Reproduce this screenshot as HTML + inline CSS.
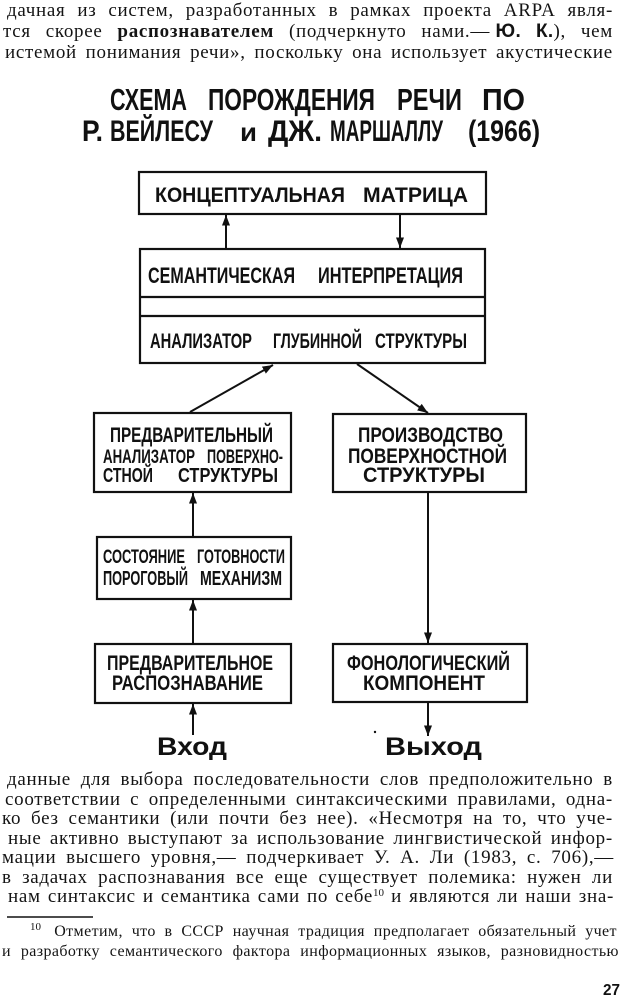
<!DOCTYPE html>
<html><head><meta charset="utf-8">
<style>
html,body{margin:0;padding:0;background:#fff;}
body{width:620px;height:999px;position:relative;overflow:hidden;}
.l{position:absolute;display:flex;justify-content:space-between;align-items:baseline;white-space:nowrap;font-family:"Liberation Serif","DejaVu Serif",serif;font-size:19px;line-height:20px;height:22px;color:#141414;letter-spacing:0.7px;}
.l span{display:block;}
.f{font-size:16px;line-height:18px;height:20px;letter-spacing:0.4px;}
.l .s{display:inline;font-family:"Liberation Sans","DejaVu Sans",sans-serif;font-weight:bold;letter-spacing:0.3px;}
sup{font-size:11px;vertical-align:6px;line-height:0;letter-spacing:0;}
svg{position:absolute;left:0;top:0;}
</style></head><body>

<div class="l" style="left:7px;top:1.1px;width:606px"><span>дачная</span><span>из</span><span>систем,</span><span>разработанных</span><span>в</span><span>рамках</span><span>проекта</span><span>ARPA</span><span>явля-</span></div>
<div class="l" style="left:3px;top:22.1px;width:610px"><span>тся</span><span>скорее</span><span><b>распознавателем</b></span><span>(подчеркнуто</span><span>нами.— <b class="s">Ю.</b></span><span><b class="s">К.</b>),</span><span>чем</span></div>
<div class="l" style="left:5px;top:42.6px;width:608px"><span>истемой</span><span>понимания</span><span>речи»,</span><span>поскольку</span><span>она</span><span>использует</span><span>акустические</span></div>

<svg width="620" height="999" viewBox="0 0 620 999">
<defs>
<marker id="a" markerWidth="11" markerHeight="9" refX="10.5" refY="4" orient="auto" markerUnits="userSpaceOnUse">
<path d="M0,0 L10.5,4 L0,8 z" fill="#111"/>
</marker>
</defs>
<g fill="none" stroke="#111" stroke-width="2.2">
<rect x="139" y="172" width="347" height="42"/>
<rect x="140" y="249" width="345" height="114"/>
<line x1="140" y1="297" x2="485" y2="297"/>
<line x1="140" y1="316" x2="485" y2="316"/>
<rect x="94" y="413" width="197" height="79"/>
<rect x="333" y="414" width="193" height="78"/>
<rect x="97" y="537" width="194" height="62"/>
<rect x="95" y="644" width="196" height="59"/>
<rect x="333" y="644" width="194" height="58"/>
</g>
<g stroke="#111" stroke-width="2" marker-end="url(#a)">
<line x1="226" y1="249" x2="226" y2="215"/>
<line x1="400" y1="214" x2="400" y2="248"/>
<line x1="190" y1="412" x2="273" y2="365"/>
<line x1="357" y1="364" x2="428" y2="413"/>
<line x1="193" y1="537" x2="193" y2="493"/>
<line x1="193" y1="644" x2="193" y2="600"/>
<line x1="193" y1="735" x2="193" y2="704"/>
<line x1="428" y1="492" x2="428" y2="643"/>
<line x1="428" y1="702" x2="428" y2="736"/>
</g>
<circle cx="375" cy="732" r="1.2" fill="#111"/>
<line x1="7" y1="917" x2="93" y2="917" stroke="#111" stroke-width="1.5"/>

<g font-family="Liberation Sans, DejaVu Sans, sans-serif" font-weight="bold" fill="#111">
<text x="110" y="110" font-size="31" textLength="77" lengthAdjust="spacingAndGlyphs">СХЕМА</text>
<text x="208" y="110" font-size="31" textLength="167" lengthAdjust="spacingAndGlyphs">ПОРОЖДЕНИЯ</text>
<text x="397" y="110" font-size="31" textLength="65" lengthAdjust="spacingAndGlyphs">РЕЧИ</text>
<text x="482" y="110" font-size="31" textLength="43" lengthAdjust="spacingAndGlyphs">ПО</text>

<text x="82" y="141" font-size="30" textLength="21" lengthAdjust="spacingAndGlyphs">Р.</text>
<text x="110" y="141" font-size="30" textLength="103" lengthAdjust="spacingAndGlyphs">ВЕЙЛЕСУ</text>
<text x="240" y="141" font-size="25" textLength="17" lengthAdjust="spacingAndGlyphs">и</text>
<text x="268" y="141" font-size="30" textLength="54" lengthAdjust="spacingAndGlyphs">ДЖ.</text>
<text x="330" y="141" font-size="30" textLength="113" lengthAdjust="spacingAndGlyphs">МАРШАЛЛУ</text>
<text x="468" y="141" font-size="30" textLength="72" lengthAdjust="spacingAndGlyphs">(1966)</text>

<text x="155" y="202" font-size="21" textLength="190" lengthAdjust="spacingAndGlyphs">КОНЦЕПТУАЛЬНАЯ</text>
<text x="363" y="202" font-size="21" textLength="105" lengthAdjust="spacingAndGlyphs">МАТРИЦА</text>

<text x="148" y="283" font-size="22" textLength="147" lengthAdjust="spacingAndGlyphs">СЕМАНТИЧЕСКАЯ</text>
<text x="318" y="283" font-size="22" textLength="145" lengthAdjust="spacingAndGlyphs">ИНТЕРПРЕТАЦИЯ</text>
<text x="150" y="348" font-size="21" textLength="102" lengthAdjust="spacingAndGlyphs">АНАЛИЗАТОР</text>
<text x="273" y="348" font-size="21" textLength="89" lengthAdjust="spacingAndGlyphs">ГЛУБИННОЙ</text>
<text x="375" y="348" font-size="21" textLength="92" lengthAdjust="spacingAndGlyphs">СТРУКТУРЫ</text>

<text x="110" y="442" font-size="21" textLength="163" lengthAdjust="spacingAndGlyphs">ПРЕДВАРИТЕЛЬНЫЙ</text>
<text x="103" y="463" font-size="19" textLength="92" lengthAdjust="spacingAndGlyphs">АНАЛИЗАТОР</text>
<text x="207" y="463" font-size="19" textLength="76" lengthAdjust="spacingAndGlyphs">ПОВЕРХНО-</text>
<text x="103" y="482" font-size="20" textLength="50" lengthAdjust="spacingAndGlyphs">СТНОЙ</text>
<text x="178" y="482" font-size="20" textLength="100" lengthAdjust="spacingAndGlyphs">СТРУКТУРЫ</text>

<text x="358" y="442" font-size="21" textLength="145" lengthAdjust="spacingAndGlyphs">ПРОИЗВОДСТВО</text>
<text x="348" y="463" font-size="21" textLength="159" lengthAdjust="spacingAndGlyphs">ПОВЕРХНОСТНОЙ</text>
<text x="363" y="482" font-size="21" textLength="122" lengthAdjust="spacingAndGlyphs">СТРУКТУРЫ</text>

<text x="103" y="563" font-size="19" textLength="82" lengthAdjust="spacingAndGlyphs">СОСТОЯНИЕ</text>
<text x="197" y="563" font-size="19" textLength="88" lengthAdjust="spacingAndGlyphs">ГОТОВНОСТИ</text>
<text x="103" y="585" font-size="20" textLength="85" lengthAdjust="spacingAndGlyphs">ПОРОГОВЫЙ</text>
<text x="200" y="585" font-size="20" textLength="82" lengthAdjust="spacingAndGlyphs">МЕХАНИЗМ</text>

<text x="107" y="670" font-size="21" textLength="166" lengthAdjust="spacingAndGlyphs">ПРЕДВАРИТЕЛЬНОЕ</text>
<text x="112" y="690" font-size="21" textLength="151" lengthAdjust="spacingAndGlyphs">РАСПОЗНАВАНИЕ</text>

<text x="347" y="670" font-size="21" textLength="163" lengthAdjust="spacingAndGlyphs">ФОНОЛОГИЧЕСКИЙ</text>
<text x="363" y="690" font-size="21" textLength="122" lengthAdjust="spacingAndGlyphs">КОМПОНЕНТ</text>

<text x="157" y="755" font-size="25" textLength="70" lengthAdjust="spacingAndGlyphs">Вход</text>
<text x="385" y="755" font-size="25" textLength="97" lengthAdjust="spacingAndGlyphs">Выход</text>

<text x="603" y="995" font-size="16" textLength="17" lengthAdjust="spacingAndGlyphs">27</text>
</g>
</svg>

<div class="l" style="left:7px;top:770.1px;width:606px"><span>данные</span><span>для</span><span>выбора</span><span>последовательности</span><span>слов</span><span>предположительно</span><span>в</span></div>
<div class="l" style="left:5px;top:789.6px;width:608px"><span>соответствии</span><span>с</span><span>определенными</span><span>синтаксическими</span><span>правилами,</span><span>одна-</span></div>
<div class="l" style="left:2px;top:809.1px;width:611px"><span>ко</span><span>без</span><span>семантики</span><span>(или</span><span>почти</span><span>без</span><span>нее).</span><span>«Несмотря</span><span>на</span><span>то,</span><span>что</span><span>уче-</span></div>
<div class="l" style="left:8px;top:828.6px;width:605px"><span>ные</span><span>активно</span><span>выступают</span><span>за</span><span>использование</span><span>лингвистической</span><span>инфор-</span></div>
<div class="l" style="left:2px;top:848.1px;width:612px"><span>мации</span><span>высшего</span><span>уровня,—</span><span>подчеркивает</span><span>У.</span><span>А.</span><span>Ли</span><span>(1983,</span><span>с.</span><span>706),—</span></div>
<div class="l" style="left:2px;top:867.6px;width:611px"><span>в</span><span>задачах</span><span>распознавания</span><span>все</span><span>еще</span><span>существует</span><span>полемика:</span><span>нужен</span><span>ли</span></div>
<div class="l" style="left:8px;top:887.1px;width:606px"><span>нам</span><span>синтаксис</span><span>и</span><span>семантика</span><span>сами</span><span>по</span><span>себе<sup>10</sup></span><span>и</span><span>являются</span><span>ли</span><span>наши</span><span>зна-</span></div>

<div class="l f" style="left:30px;top:923.4px;width:587px"><span><sup>10</sup>&nbsp;&nbsp;&nbsp;Отметим,</span><span>что</span><span>в</span><span>СССР</span><span>научная</span><span>традиция</span><span>предполагает</span><span>обязательный</span><span>учет</span></div>
<div class="l f" style="left:2px;top:943.4px;width:617px"><span>и</span><span>разработку</span><span>семантического</span><span>фактора</span><span>информационных</span><span>языков,</span><span>разновидностью</span></div>

</body></html>
